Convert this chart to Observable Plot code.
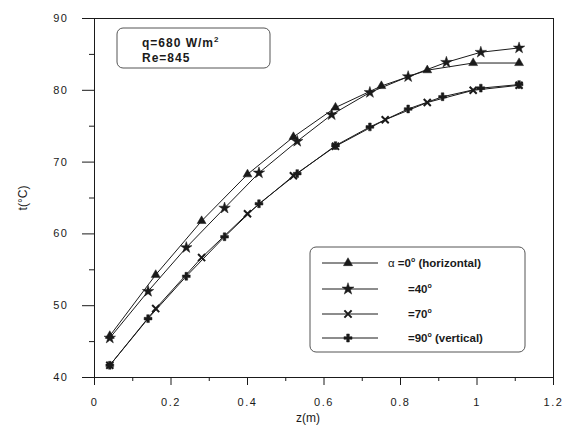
<!DOCTYPE html>
<html>
<head>
<meta charset="utf-8">
<script src="https://cdn.jsdelivr.net/npm/d3@7"></script>
<script src="https://cdn.jsdelivr.net/npm/@observablehq/plot@0.6"></script>
<style>
  html, body { margin: 0; padding: 0; background: #fff; }
  #chart svg { display: block; }
</style>
</head>
<body>
<div id="chart"></div>
<script>
// ---- data ----
const seriesNames = ["α=0° (horizontal)", "=40°", "=70°", "=90° (vertical)"];

const z0  = [0.04, 0.16, 0.28, 0.40, 0.52, 0.63, 0.75, 0.87, 0.99, 1.11];
const t0  = [45.8, 54.3, 61.8, 68.3, 73.5, 77.6, 80.6, 82.8, 83.8, 83.8];

const z40 = [0.04, 0.14, 0.24, 0.34, 0.43, 0.53, 0.62, 0.72, 0.82, 0.92, 1.01, 1.11];
const t40 = [45.5, 52.0, 58.1, 63.6, 68.5, 72.9, 76.6, 79.7, 81.9, 83.9, 85.3, 85.9];

const z70 = [0.04, 0.16, 0.28, 0.40, 0.52, 0.63, 0.76, 0.87, 0.99, 1.11];
const t70 = [41.7, 49.6, 56.7, 62.8, 68.1, 72.2, 75.9, 78.3, 80.0, 80.7];

const z90 = [0.04, 0.14, 0.24, 0.34, 0.43, 0.53, 0.63, 0.72, 0.82, 0.91, 1.01, 1.11];
const t90 = [41.7, 48.2, 54.1, 59.6, 64.2, 68.4, 72.3, 74.9, 77.4, 79.1, 80.3, 80.8];

const xMajor = [0, 0.2, 0.4, 0.6, 0.8, 1, 1.2];
const xMinor = [0.1, 0.3, 0.5, 0.7, 0.9, 1.1];
const yMajor = [40, 50, 60, 70, 80, 90];
const yMinor = [45, 55, 65, 75, 85];

const noteLines = ["q=680 W/m", "Re=845"];

// ---- build tables ----
const zs = [z0, z40, z70, z90];
const ts = [t0, t40, t70, t90];
const data = [];
seriesNames.forEach((s, i) => zs[i].forEach((z, j) => data.push({series: s, z, t: ts[i][j]})));
const bySeries = s => data.filter(d => d.series === s);

const symbols = ["triangle", "star", "times", "cross"];
const ink = "#1a1a1a";

const W = 568, H = 425;
const chart = Plot.plot({
  width: W,
  height: H,
  marginLeft: 94,
  marginRight: 15,
  marginTop: 18,
  marginBottom: 48,
  style: {fontFamily: "'Liberation Sans', Arial, sans-serif", fontSize: "11px", color: ink, background: "#fff"},
  x: {domain: [0, 1.2], label: null},
  y: {domain: [40, 90], label: null},
  marks: [
    Plot.frame({stroke: ink, strokeWidth: 1}),
    Plot.axisX({ticks: xMajor, tickSize: 8, tickPadding: 13, label: null,
      tickFormat: d => (d === 0 || d === 1) ? String(d) : d.toFixed(1), stroke: ink}),
    Plot.axisX({ticks: xMinor, tickSize: 4, tickFormat: () => "", label: null, stroke: ink}),
    Plot.axisY({ticks: yMajor, tickSize: 12, tickPadding: 14, label: null, stroke: ink}),
    Plot.axisY({ticks: yMinor, tickSize: 5, tickFormat: () => "", label: null, stroke: ink}),
    ...seriesNames.map((s, i) => Plot.line(bySeries(s), {x: "z", y: "t", stroke: ink, strokeWidth: 1})),
    ...seriesNames.map((s, i) => Plot.dot(bySeries(s), {x: "z", y: "t", symbol: () => symbols[i],
      r: i === 1 ? 3.6 : 3.3,
      fill: symbols[i] === "times" ? "none" : ink,
      stroke: ink, strokeWidth: symbols[i] === "times" ? 2 : 0.5}))
  ]
});

const svg = d3.select(chart);
svg.selectAll("g[aria-label='x-axis tick label'] text, g[aria-label='y-axis tick label'] text")
  .style("letter-spacing", "1.5px");

// axis titles
svg.append("text").attr("x", 308).attr("y", 422).attr("text-anchor", "middle")
  .attr("font-size", 12).attr("fill", ink).text("z(m)");
svg.append("text").attr("transform", "translate(27,198) rotate(-90)").attr("text-anchor", "middle")
  .attr("font-size", 12).attr("fill", ink).text("t(°C)");

// parameter note box
const note = svg.append("g").attr("text-anchor", "start");
note.append("rect").attr("x", 117).attr("y", 28).attr("width", 153).attr("height", 40).attr("rx", 6)
  .attr("fill", "#fff").attr("stroke", "#555").attr("stroke-width", 1);
const n1 = note.append("text").attr("x", 142).attr("y", 47).attr("font-size", 12).attr("font-weight", "bold")
  .attr("letter-spacing", "1px").attr("fill", ink);
n1.append("tspan").text(noteLines[0]);
n1.append("tspan").attr("dy", -5).attr("font-size", 8).text("2");
note.append("text").attr("x", 142).attr("y", 62).attr("font-size", 12).attr("font-weight", "bold")
  .attr("letter-spacing", "1px").attr("fill", ink).text(noteLines[1]);

// legend box
const leg = svg.append("g").attr("text-anchor", "start");
leg.append("rect").attr("x", 310).attr("y", 247).attr("width", 215).attr("height", 105).attr("rx", 6)
  .attr("fill", "#fff").attr("stroke", "#555").attr("stroke-width", 1);
const rowsY = [263, 289, 314, 338];
const symbolMap = {triangle: d3.symbolTriangle, star: d3.symbolStar, times: d3.symbolTimes, cross: d3.symbolCross};
rowsY.forEach((yy, i) => {
  leg.append("line").attr("x1", 322).attr("x2", 378).attr("y1", yy).attr("y2", yy)
    .attr("stroke", ink).attr("stroke-width", 1);
  const sym = symbols[i];
  const size = i === 1 ? 45 : 36;
  leg.append("path").attr("transform", `translate(348,${yy})`)
    .attr("d", d3.symbol(symbolMap[sym], size)())
    .attr("fill", sym === "times" ? "none" : ink).attr("stroke", ink).attr("stroke-width", sym === "times" ? 2 : 0.5);
  const tx = leg.append("text").attr("x", i === 0 ? 388 : 408).attr("y", yy + 4)
    .attr("font-size", 11.5).attr("font-weight", "bold").attr("fill", ink);
  const label = seriesNames[i];
  if (i === 0) {
    tx.append("tspan").attr("font-weight", "normal").text("α ");
    tx.append("tspan").text("=0");
    tx.append("tspan").attr("dy", -5).attr("font-size", 7).text("o");
    tx.append("tspan").attr("dy", 5).text(" (horizontal)");
  } else {
    const num = label.match(/=\d+/)[0];
    tx.append("tspan").text(num);
    tx.append("tspan").attr("dy", -5).attr("font-size", 7).text("o");
    if (i === 3) tx.append("tspan").attr("dy", 5).text(" (vertical)");
  }
});

document.getElementById("chart").appendChild(chart);
</script>
</body>
</html>
